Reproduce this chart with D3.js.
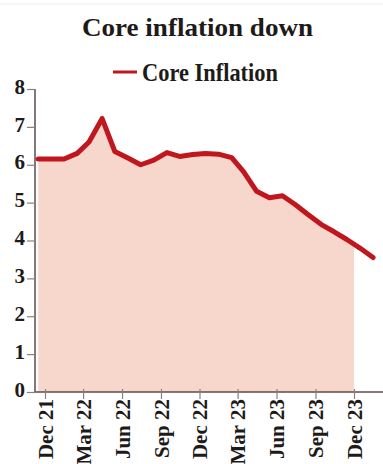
<!DOCTYPE html>
<html lang="en">
<head>
<meta charset="UTF-8">
<script src="https://cdnjs.cloudflare.com/ajax/libs/d3/7.8.5/d3.min.js"></script>
<style>
    body { margin: 0; background: #fff; }
    svg { display: block; }
    text { font-family: "Liberation Serif", "DejaVu Serif", serif; fill: #1e1a19; }
</style>
</head>
<body>
<div id="container"></div>
<script>
    // ---------------- data ----------------
    // monthly core inflation (%), point placed mid-month
    const months = ["2021-11","2021-12","2022-01","2022-02","2022-03","2022-04","2022-05","2022-06",
                    "2022-07","2022-08","2022-09","2022-10","2022-11","2022-12","2023-01","2023-02",
                    "2023-03","2023-04","2023-05","2023-06","2023-07","2023-08","2023-09","2023-10",
                    "2023-11","2023-12","2024-01"]
    const coreInflation = [6.15, 6.15, 6.15, 6.3, 6.6, 7.22, 6.35, 6.18,
                           6.0, 6.12, 6.32, 6.22, 6.27, 6.3, 6.28, 6.19,
                           5.82, 5.3, 5.13, 5.18, 4.95, 4.68, 4.42, 4.23,
                           4.02, 3.8, 3.55]
    const tickMonths = ["2021-12","2022-03","2022-06","2022-09","2022-12","2023-03","2023-06","2023-09","2023-12"]
    const yTicks = [0, 1, 2, 3, 4, 5, 6, 7, 8]

    const W = 383, H = 464
    const parse = d3.timeParse("%Y-%m")
    const midMonth = s => d3.timeDay.offset(parse(s), 14)

    const data = months.map((m, i) => ({date: midMonth(m), value: coreInflation[i]}))

    // ---------------- scales ----------------
    const x = d3.scaleTime()
        .domain([parse("2021-12"), parse("2023-12")])
        .range([45, 354])
    const y = d3.scaleLinear().domain([0, 8]).range([392, 89])
    const axisX = 35

    const svg = d3.select("#container").append("svg")
        .attr("width", W).attr("height", H)

    // faint top rule
    svg.append("line").attr("x1", 0).attr("x2", W).attr("y1", 4).attr("y2", 4)
        .attr("stroke", "#eeeeee").attr("stroke-width", 1)

    // title
    svg.append("text").attr("x", 82).attr("y", 36)
        .style("font-size", "26px").style("font-weight", "bold")
        .attr("textLength", 231).attr("lengthAdjust", "spacingAndGlyphs")
        .text("Core inflation down")

    // legend
    svg.append("line").attr("x1", 113).attr("x2", 137).attr("y1", 72).attr("y2", 72)
        .attr("stroke", "#c0161d").attr("stroke-width", 3)
    svg.append("text").attr("x", 142).attr("y", 81)
        .style("font-size", "25px").style("font-weight", "bold")
        .attr("textLength", 136).attr("lengthAdjust", "spacingAndGlyphs")
        .text("Core Inflation")

    // clip paths
    const defs = svg.append("defs")
    defs.append("clipPath").attr("id", "clipArea").append("rect")
        .attr("x", axisX).attr("y", 0)
        .attr("width", x(parse("2023-12")) - axisX).attr("height", y(0))
    defs.append("clipPath").attr("id", "clipLine").append("rect")
        .attr("x", axisX).attr("y", 0).attr("width", W - axisX).attr("height", H)

    // area
    const area = d3.area().x(d => x(d.date)).y0(y(0)).y1(d => y(d.value))
    svg.append("path").datum(data)
        .attr("clip-path", "url(#clipArea)")
        .attr("d", area)
        .attr("fill", "#f7d6cc")

    // y axis
    const yAxis = svg.append("g").attr("transform", `translate(${axisX},0)`)
        .call(d3.axisLeft(y).tickValues(yTicks).tickSize(8).tickPadding(2))
    yAxis.select(".domain").attr("stroke", "#5b4d49").attr("stroke-width", 1.5)
        .attr("d", `M0,${y(8)}V${y(0)}`)
    yAxis.selectAll(".tick line").attr("stroke", "#8a807d").attr("stroke-width", 1.2)
    yAxis.selectAll(".tick text")
        .style("font-family", "Liberation Serif, serif")
        .style("font-size", "21px").style("font-weight", "bold")
        .attr("fill", "#1e1a19").attr("dy", "0.2em")

    // x axis
    const xAxis = svg.append("g").attr("transform", `translate(0,${y(0)})`)
        .call(d3.axisBottom(x).tickValues(tickMonths.map(parse)).tickSize(7).tickSizeOuter(0)
            .tickFormat(d3.timeFormat("%b %y")))
    xAxis.select(".domain").attr("stroke", "#5b4d49").attr("stroke-width", 1.5)
        .attr("d", `M${axisX},0H${W}`)
    xAxis.selectAll(".tick line").attr("stroke", "#8a807d").attr("stroke-width", 1.2)
        .attr("y1", -3)
    xAxis.selectAll(".tick text")
        .style("font-family", "Liberation Serif, serif")
        .style("font-size", "21px").style("font-weight", "bold")
        .attr("fill", "#1e1a19")
        .attr("text-anchor", "end")
        .attr("transform", "rotate(-90)")
        .attr("x", -7).attr("y", 0).attr("dy", "0.35em")

    // line
    const line = d3.line().x(d => x(d.date)).y(d => y(d.value))
    svg.append("path").datum(data)
        .attr("clip-path", "url(#clipLine)")
        .attr("d", line)
        .attr("fill", "none")
        .attr("stroke", "#c0161d")
        .attr("stroke-width", 5)
        .attr("stroke-linejoin", "round")
        .attr("stroke-linecap", "round")
</script>
</body>
</html>
